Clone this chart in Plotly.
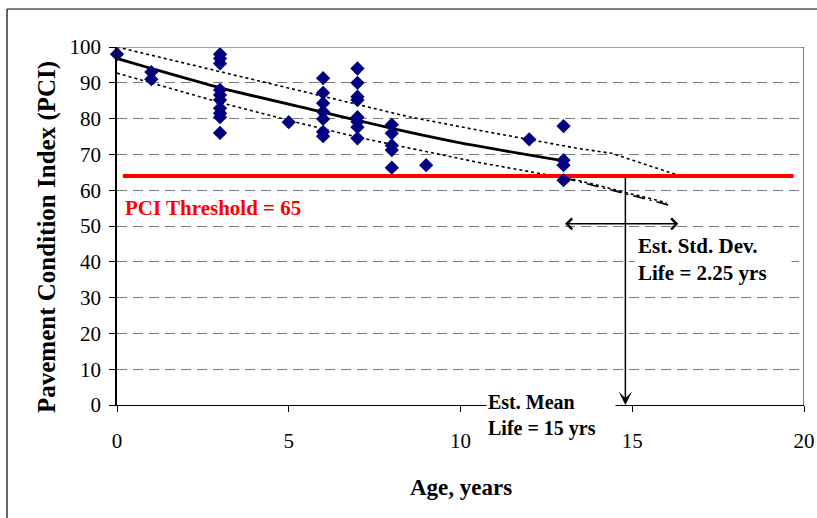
import plotly.graph_objects as go

# ---- data ----
age = [0, 1, 1,
       3, 3, 3, 3, 3, 3, 3, 3, 3, 3,
       5,
       6, 6, 6, 6, 6, 6, 6,
       7, 7, 7, 7, 7, 7, 7, 7,
       8, 8, 8, 8, 8,
       9, 12,
       13, 13, 13, 13]
pci = [98, 93, 91,
       98, 96.8, 95.4, 88, 86.6, 85.2, 82.9, 81.5, 80.4, 76,
       79,
       91.3, 87.2, 84.3, 81.9, 79.9, 76.3, 75.1,
       94, 90, 86.1, 85.2, 80.4, 79.1, 77.6, 74.5,
       78.3, 75.9, 72.5, 71.2, 66.3,
       67, 74.2,
       77.9, 68.4, 67, 62.8]

trend_x = [0, 1, 3, 6, 7, 8, 10, 13]
trend_y = [96.8, 94.0, 88.6, 81.8, 79.5, 77.3, 73.2, 68.2]

upper_x = [0, 4.4, 7, 8.5, 10.5, 13.4, 14.4, 16.3]
upper_y = [100, 89.9, 83.8, 80.5, 76.8, 71.7, 70.3, 64.3]

lower_x = [0, 3, 5, 7, 10.5, 13.4, 16]
lower_y = [92.7, 84.5, 79.5, 74.8, 67.8, 62.8, 56.5]

extend_x = [13, 16.05]
extend_y = [63.5, 55.9]

threshold = 64
threshold_x = [0.17, 19.7]

mean_life = 14.8
sd_arrow_x = [13.0, 16.34]
sd_arrow_y = 50.6

x_ticks = [0, 5, 10, 15, 20]
y_ticks = [0, 10, 20, 30, 40, 50, 60, 70, 80, 90, 100]

FONT = "Liberation Serif"

fig = go.Figure()

fig.add_trace(go.Scatter(x=upper_x, y=upper_y, mode="lines",
                         line=dict(color="black", width=1.6, dash="dot"),
                         hoverinfo="skip", showlegend=False))
fig.add_trace(go.Scatter(x=lower_x, y=lower_y, mode="lines",
                         line=dict(color="black", width=1.6, dash="dot"),
                         hoverinfo="skip", showlegend=False))
fig.add_trace(go.Scatter(x=extend_x, y=extend_y, mode="lines",
                         line=dict(color="black", width=1.7, dash="12px,5px,2px,5px"),
                         hoverinfo="skip", showlegend=False))
fig.add_trace(go.Scatter(x=threshold_x, y=[threshold, threshold], mode="lines",
                         line=dict(color="#FF0000", width=4),
                         hoverinfo="skip", showlegend=False))
fig.add_trace(go.Scatter(x=trend_x, y=trend_y, mode="lines",
                         line=dict(color="black", width=2.8, shape="spline", smoothing=0.6),
                         hoverinfo="skip", showlegend=False))
fig.add_trace(go.Scatter(x=age, y=pci, mode="markers",
                         marker=dict(symbol="diamond", size=11, color="#000080",
                                     line=dict(width=0)),
                         cliponaxis=False, showlegend=False))

# top solid grey line and right border
fig.add_shape(type="line", xref="x", yref="y", x0=0, x1=20, y0=100, y1=100,
              line=dict(color="#808080", width=1.5))
fig.add_shape(type="line", xref="x", yref="y", x0=20, x1=20, y0=0, y1=100,
              line=dict(color="black", width=1))

# outer frame (top and left edges visible)
fx = (7 - 117) / 687
fy = (405 - 9) / 358
fig.add_shape(type="line", xref="paper", yref="paper", x0=fx, x1=1.1, y0=fy, y1=fy,
              line=dict(color="black", width=1.2))
fig.add_shape(type="line", xref="paper", yref="paper", x0=fx, x1=fx, y0=fy, y1=-0.4,
              line=dict(color="black", width=1.2))

annotations = []
# vertical arrow: mean life
annotations.append(dict(x=mean_life, y=0, ax=mean_life, ay=threshold,
                        xref="x", yref="y", axref="x", ayref="y", text="",
                        showarrow=True, arrowhead=3, arrowsize=1.5, arrowwidth=1.5,
                        arrowcolor="black", standoff=0))
# horizontal double arrow: std dev
annotations.append(dict(x=sd_arrow_x[1], y=sd_arrow_y, ax=sd_arrow_x[0], ay=sd_arrow_y,
                        xref="x", yref="y", axref="x", ayref="y", text="",
                        showarrow=True, arrowhead=4, startarrowhead=4, arrowside="end+start",
                        arrowsize=1.4, startarrowsize=1.4, arrowwidth=1.5,
                        arrowcolor="black", standoff=0, startstandoff=0))
annotations.append(dict(x=0.17, y=55.0, xref="x", yref="y", text="<b>PCI Threshold = 65</b>",
                        showarrow=False, xanchor="left", yanchor="middle",
                        font=dict(family=FONT, size=21, color="#FF0000")))
annotations.append(dict(x=15.05, y=40.6, xref="x", yref="y",
                        text="<b>Est. Std. Dev.<br>Life = 2.25 yrs</b>",
                        showarrow=False, xanchor="left", yanchor="middle", align="left",
                        bgcolor="white", borderpad=3, width=150,
                        font=dict(family=FONT, size=21, color="black")))
annotations.append(dict(x=(486 - 117) / 687, y=(405 - 415) / 358, xref="paper", yref="paper",
                        text="<b>Est. Mean<br>Life = 15 yrs</b>",
                        showarrow=False, xanchor="left", yanchor="middle", align="left",
                        bgcolor="white", borderpad=1, width=126,
                        font=dict(family=FONT, size=20, color="black")))
# axis titles
annotations.append(dict(x=(47 - 117) / 687, y=(405 - 237) / 358, xref="paper", yref="paper",
                        text="<b>Pavement Condition Index (PCI)</b>", textangle=-90,
                        showarrow=False, xanchor="center", yanchor="middle",
                        font=dict(family=FONT, size=25, color="black")))
annotations.append(dict(x=0.5, y=(405 - 487) / 358, xref="paper", yref="paper",
                        text="<b>Age, years</b>",
                        showarrow=False, xanchor="center", yanchor="middle",
                        font=dict(family=FONT, size=23, color="black")))

fig.update_layout(
    width=817, height=518,
    margin=dict(l=117, r=13, t=47, b=113, autoexpand=False),
    paper_bgcolor="white", plot_bgcolor="white",
    showlegend=False,
    annotations=annotations,
    font=dict(family=FONT, size=19, color="black"),
    xaxis=dict(range=[0, 20], tickvals=x_ticks, ticktext=[str(v) for v in x_ticks],
               automargin=False,
               showgrid=False, zeroline=False, showline=True, linecolor="black", linewidth=1.2,
               ticks="outside", ticklen=6, tickcolor="black", tickwidth=1,
               ticklabelstandoff=11, tickfont=dict(family=FONT, size=21, color="black")),
    yaxis=dict(range=[0, 100], tickvals=y_ticks, ticktext=[str(v) for v in y_ticks],
               automargin=False,
               showgrid=True, gridcolor="#7a7a7a", gridwidth=1, griddash="10px,6px",
               zeroline=False, showline=True, linecolor="black", linewidth=1.5,
               ticks="outside", ticklen=6, tickcolor="black", tickwidth=1,
               ticklabelstandoff=4, tickfont=dict(family=FONT, size=21, color="black")),
)

fig.write_html("out.html")
